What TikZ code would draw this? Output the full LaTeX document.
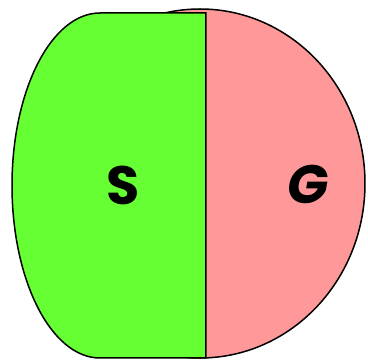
\documentclass[tikz,border=0pt]{standalone}
\usepackage{xcolor}
\usepackage{fontspec}
\usepackage{tikz}
\newfontfamily\lblfont{Poppins}
\definecolor{sgreen}{HTML}{66FF33}
\definecolor{gpink}{HTML}{FF9999}

\begin{document}
\begin{tikzpicture}[x=1pt,y=1pt]
    \useasboundingbox (0,0) rectangle (368,361);
    \filldraw[fill=gpink, draw=black, line width=1.5pt] (200,177.5) ellipse [x radius=165, y radius=174.5];
    \filldraw[fill=sgreen, draw=black, line width=1.5pt] (206,348) -- (100,348)
        arc[start angle=90, end angle=270, x radius=88, y radius=172.5] -- (206,3) -- cycle;
    \node (s) at (123,176) {\lblfont\bfseries\fontsize{54}{54}\selectfont S};
    \node (g) at (308,177) {\lblfont\bfseries\itshape\fontsize{54}{54}\selectfont G};
\end{tikzpicture}
\end{document}
